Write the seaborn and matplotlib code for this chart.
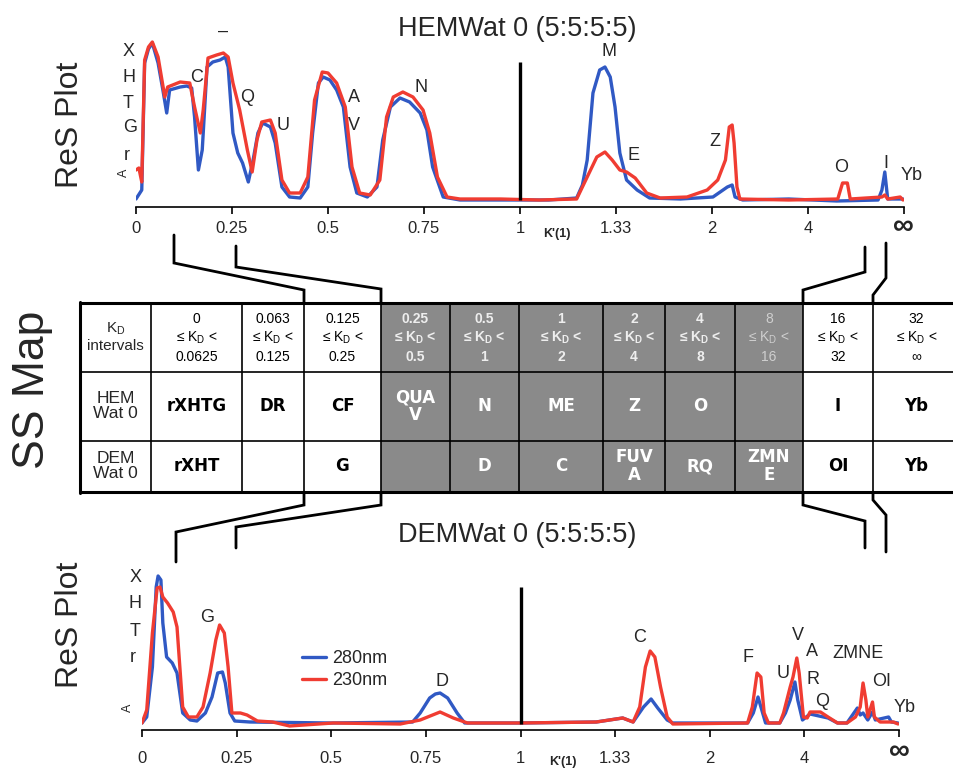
import matplotlib
matplotlib.use('Agg')
import matplotlib.pyplot as plt
import seaborn as sns
from matplotlib.patches import Rectangle

# K' scale: tick index 0..8 -> 0, 0.25, 0.5, 0.75, 1, 1.33, 2, 4, inf
tick_labels = ['0', '0.25', '0.5', '0.75', '1', '1.33', '2', '4', '∞']

# HEMWat 0 ReS plot (position on K' scale, absorbance)
hem_280 = [(0.00, 8), (0.06, 17), (0.09, 144), (0.13, 158), (0.17, 164), (0.23, 144), (0.28, 117), (0.32, 94),
           (0.35, 117), (0.46, 120), (0.53, 121), (0.58, 119), (0.61, 90), (0.65, 37), (0.69, 57),
           (0.74, 140), (0.80, 145), (0.875, 147), (0.93, 150), (0.96, 140), (1.01, 74), (1.06, 54),
           (1.11, 44), (1.17, 25), (1.22, 47), (1.27, 74), (1.32, 84), (1.40, 80), (1.45, 64),
           (1.52, 20), (1.60, 10), (1.71, 9), (1.79, 20), (1.84, 74), (1.90, 124), (1.95, 130),
           (2.02, 127), (2.09, 117), (2.16, 100), (2.23, 40), (2.30, 14), (2.41, 10), (2.51, 20),
           (2.57, 67), (2.65, 100), (2.75, 109), (2.85, 105), (2.96, 94), (3.03, 77), (3.09, 40),
           (3.20, 10), (3.375, 7), (3.58, 7), (4.0, 7), (4.3, 7), (4.59, 9), (4.65, 22), (4.70, 47),
           (4.76, 114), (4.83, 137), (4.885, 140), (4.94, 130), (4.99, 100), (5.04, 54), (5.11, 27),
           (5.22, 17), (5.35, 9), (5.67, 8), (6.01, 10), (6.16, 20), (6.21, 22), (6.24, 10), (6.32, 7),
           (6.8, 8), (7.3, 6), (7.73, 7), (7.77, 17), (7.80, 35), (7.83, 8), (7.99, 8)]
hem_230 = [(0.00, 37), (0.03, 39), (0.06, 25), (0.09, 147), (0.13, 160), (0.17, 165), (0.23, 150), (0.30, 110),
           (0.33, 120), (0.46, 125), (0.56, 124), (0.61, 100), (0.67, 74), (0.70, 97), (0.75, 149),
           (0.84, 152), (0.91, 154), (0.96, 150), (1.01, 124), (1.08, 97), (1.16, 57), (1.21, 35),
           (1.26, 67), (1.31, 85), (1.40, 87), (1.45, 74), (1.52, 27), (1.60, 14), (1.71, 14),
           (1.79, 30), (1.86, 107), (1.94, 135), (2.00, 134), (2.09, 124), (2.18, 100), (2.25, 40),
           (2.33, 14), (2.44, 12), (2.54, 27), (2.61, 90), (2.68, 110), (2.78, 115), (2.885, 110),
           (2.99, 97), (3.06, 74), (3.14, 30), (3.24, 10), (3.375, 8), (3.8, 8), (4.2, 7), (4.59, 8),
           (4.70, 30), (4.80, 50), (4.885, 55), (4.96, 47), (5.04, 37), (5.11, 35), (5.20, 29),
           (5.32, 14), (5.46, 9), (5.74, 10), (5.95, 17), (6.06, 27), (6.14, 47), (6.18, 80),
           (6.21, 82), (6.23, 64), (6.26, 20), (6.29, 8), (6.8, 7), (7.31, 8), (7.36, 24), (7.41, 24),
           (7.44, 8), (7.77, 10), (7.80, 12), (7.83, 8), (7.96, 10), (7.99, 7)]

# DEMWat 0 ReS plot
dem_280 = [(0.00, 7), (0.05, 13), (0.11, 63), (0.15, 143), (0.17, 154), (0.20, 150), (0.22, 107),
           (0.26, 73), (0.32, 67), (0.37, 57), (0.40, 37), (0.43, 17), (0.51, 10), (0.58, 9),
           (0.67, 17), (0.74, 33), (0.80, 57), (0.85, 58), (0.88, 47), (0.93, 17), (0.98, 9),
           (1.14, 8), (2.0, 7), (2.86, 8), (2.94, 17), (3.04, 32), (3.10, 36), (3.15, 37), (3.23, 32),
           (3.33, 17), (3.41, 7), (4.0, 7), (4.8, 8), (5.08, 12), (5.19, 8), (5.30, 23), (5.38, 31),
           (5.45, 22), (5.55, 10), (5.61, 7), (6.40, 7), (6.46, 17), (6.51, 33), (6.55, 20), (6.59, 7),
           (6.74, 7), (6.80, 17), (6.85, 30), (6.90, 48), (6.93, 30), (6.98, 10), (7.06, 16), (7.25, 12),
           (7.35, 7), (7.45, 7), (7.56, 22), (7.59, 15), (7.62, 17), (7.67, 10), (7.72, 18),
           (7.75, 10), (7.89, 13), (7.92, 8), (7.99, 7)]
dem_230 = [(0.00, 7), (0.05, 20), (0.11, 97), (0.16, 142), (0.19, 143), (0.22, 133), (0.27, 127),
           (0.33, 118), (0.37, 103), (0.40, 63), (0.43, 23), (0.49, 13), (0.58, 13), (0.645, 23),
           (0.72, 57), (0.78, 90), (0.82, 105), (0.87, 97), (0.91, 63), (0.95, 17), (1.04, 17),
           (1.11, 15), (1.22, 9), (1.38, 8), (1.56, 4), (2.02, 7), (2.73, 6), (2.94, 10), (3.15, 18),
           (3.29, 12), (3.44, 7), (4.0, 7), (4.8, 8), (5.08, 12), (5.19, 8), (5.26, 23), (5.32, 63),
           (5.37, 79), (5.42, 73), (5.48, 43), (5.55, 13), (5.61, 6), (6.40, 7), (6.45, 23),
           (6.50, 57), (6.54, 53), (6.575, 17), (6.62, 7), (6.74, 7), (6.78, 17), (6.85, 43),
           (6.88, 53), (6.92, 72), (6.945, 57), (6.99, 13), (7.03, 12), (7.06, 18), (7.17, 18),
           (7.25, 13), (7.35, 7), (7.45, 7), (7.54, 13), (7.59, 23), (7.62, 47), (7.65, 30),
           (7.67, 13), (7.72, 28), (7.74, 13), (7.80, 8), (7.94, 8), (7.99, 6)]

# peak labels (text, x, y)
hem_labels = [('X', -0.08, 155), ('H', -0.07, 129), ('T', -0.08, 104), ('G', -0.06, 79), ('r', -0.10, 52),
              ('–', 0.91, 176), ('C', 0.635, 130), ('Q', 1.16, 109), ('U', 1.53, 82), ('A', 2.27, 109),
              ('V', 2.27, 82), ('N', 2.97, 120), ('M', 4.93, 155), ('E', 5.18, 52), ('Z', 6.03, 65),
              ('O', 7.35, 40), ('I', 7.81, 44), ('Yb', 8.08, 31)]
dem_labels = [('X', -0.07, 152), ('H', -0.07, 126), ('T', -0.07, 99), ('r', -0.10, 73), ('G', 0.69, 113),
              ('D', 3.17, 48), ('C', 5.26, 93), ('F', 6.40, 73), ('U', 6.78, 56), ('V', 6.93, 95),
              ('A', 7.08, 78), ('R', 7.09, 50), ('Q', 7.19, 28), ('ZMNE', 7.57, 77), ('OI', 7.82, 48),
              ('Yb', 8.06, 22)]

# SS map table
kd_low = ['0', '0.063', '0.125', '0.25', '0.5', '1', '2', '4', '8', '16', '32']
kd_high = ['0.0625', '0.125', '0.25', '0.5', '1', '2', '4', '8', '16', '32', '∞']
hem_row = ['rXHTG', 'DR', 'CF', 'QUA\nV', 'N', 'ME', 'Z', 'O', '', 'I', 'Yb']
dem_row = ['rXHT', '', 'G', '', 'D', 'C', 'FUV\nA', 'RQ', 'ZMN\nE', 'OI', 'Yb']

BLUE = '#3059c4'
RED = '#f03c32'
GRAY = '#8a8a8a'

sns.set_style('white')
plt.rcParams['font.family'] = ['Liberation Sans', 'DejaVu Sans']
plt.rcParams['mathtext.default'] = 'regular'

W, H = 954, 768
fig = plt.figure(figsize=(W / 100, H / 100), dpi=100)


def box(x0, y0, x1, y1):
    return [x0 / W, 1 - y1 / H, (x1 - x0) / W, (y1 - y0) / H]


ax_top = fig.add_axes(box(136, 35, 904, 207))
ax_bot = fig.add_axes(box(142, 560, 899, 730))

for ax, c280, c230, ytop, pad in [(ax_top, hem_280, hem_230, 172, 5), (ax_bot, dem_280, dem_230, 170, 10)]:
    sns.lineplot(x=[p[0] for p in c280], y=[p[1] for p in c280], ax=ax, color=BLUE, lw=2.4,
                 sort=False, estimator=None, label='280nm')
    sns.lineplot(x=[p[0] for p in c230], y=[p[1] for p in c230], ax=ax, color=RED, lw=2.4,
                 sort=False, estimator=None, label='230nm')
    ax.set_xlim(0, 8)
    ax.set_ylim(0, ytop)
    ax.patch.set_alpha(0)
    for s in ['top', 'left', 'right']:
        ax.spines[s].set_visible(False)
    ax.spines['bottom'].set_linewidth(1.2)
    ax.spines['bottom'].set_color('black')
    ax.set_yticks([])
    ax.set_xticks(range(9))
    ax.set_xticklabels(tick_labels[:-1] + [''], fontsize=12)
    ax.tick_params(axis='x', bottom=True, length=5, width=1.2, color='black', pad=pad)
    ax.set_xlabel('')
    ax.set_ylabel('')

ax_top.get_legend().remove()
ax_bot.legend(loc='upper left', bbox_to_anchor=(293 / W, 1 - 641 / H), bbox_transform=fig.transFigure,
              frameon=False, fontsize=13, handlelength=1.35, handletextpad=0.3, borderpad=0,
              labelspacing=0.3)

ax_top.vlines(4, 7, 145, color='black', lw=2.4)
ax_bot.vlines(4, 6, 143, color='black', lw=2.4)

for ax, labels, a_pos in [(ax_top, hem_labels, (-0.125, 34)), (ax_bot, dem_labels, (-0.15, 22))]:
    for t, x, y in labels:
        ax.text(x, y, t, fontsize=13, ha='center', va='center', clip_on=False)
    ax.text(a_pos[0], a_pos[1], 'A', fontsize=9, rotation=90, ha='center', va='center', clip_on=False)

# overlay in pixel coordinates for titles, table and connectors
ov = fig.add_axes([0, 0, 1, 1])
ov.set_xlim(0, W)
ov.set_ylim(H, 0)
ov.axis('off')
ov.patch.set_alpha(0)

ov.text(517, 36, 'HEMWat 0 (5:5:5:5)', fontsize=19.5, ha='center', va='baseline')
ov.text(517, 542, 'DEMWat 0 (5:5:5:5)', fontsize=19.5, ha='center', va='baseline')
ov.text(70, 125, 'ReS Plot', fontsize=23, rotation=90, ha='center', va='center')
ov.text(70, 625, 'ReS Plot', fontsize=23, rotation=90, ha='center', va='center')
ov.text(33, 390, 'SS Map', fontsize=32, rotation=90, ha='center', va='center')
ov.text(557, 234, "K'(1)", fontsize=9, fontweight='bold', ha='center', va='center')
ov.text(563, 762, "K'(1)", fontsize=9, fontweight='bold', ha='center', va='center')
# infinity tick labels, drawn larger and bolder than the other ticks
ov.text(903, 226, tick_labels[-1], fontsize=21, fontweight='bold', ha='center', va='center')
ov.text(899, 751, tick_labels[-1], fontsize=21, fontweight='bold', ha='center', va='center')

# table
cols = [80, 151, 242, 304, 381, 450, 519, 603, 665, 735, 803, 873, 960]
rows = [303, 372, 441, 492]
ov.add_patch(Rectangle((381, 303), 803 - 381, 492 - 303, facecolor=GRAY, edgecolor='none'))
for x in cols[1:-1]:
    ov.plot([x, x], [303, 492], color='black', lw=1.2)
for y in rows[1:-1]:
    ov.plot([80, 960], [y, y], color='black', lw=1.2)
ov.plot([80, 960], [303, 303], color='black', lw=2.2, solid_capstyle='butt')
ov.plot([80, 960], [492, 492], color='black', lw=2.2, solid_capstyle='butt')
ov.plot([80, 80], [302, 493], color='black', lw=2.2)

kd = 'K$_D$'
ov.text(115.5, 337, kd + '\nintervals', fontsize=11, ha='center', va='center', linespacing=1.15)
ov.text(115.5, 406, 'HEM\nWat 0', fontsize=12.5, ha='center', va='center', linespacing=1.05)
ov.text(115.5, 466, 'DEM\nWat 0', fontsize=12.5, ha='center', va='center', linespacing=1.05)
for i in range(11):
    cx = (cols[i + 1] + cols[i + 2]) / 2
    gray = 3 <= i <= 8
    hcol = '#cfcfcf' if i == 8 else ('#eeeeee' if gray else 'black')
    hw = 'bold' if gray and i != 8 else 'normal'
    ov.text(cx, 338, f'{kd_low[i]}\n≤ {kd} <\n{kd_high[i]}', fontsize=10, ha='center', va='center',
            color=hcol, fontweight=hw, linespacing=1.3)
    tcol = 'white' if gray else 'black'
    ov.text(cx, 406, hem_row[i], fontsize=12, ha='center', va='center', color=tcol,
            fontweight='heavy', family='DejaVu Sans', linespacing=0.95)
    ov.text(cx, 466, dem_row[i], fontsize=12, ha='center', va='center', color=tcol,
            fontweight='heavy', family='DejaVu Sans', linespacing=0.95)

# connectors between the ReS plots and the SS map
lk = dict(color='black', lw=2, solid_joinstyle='miter')
ov.plot([174, 174, 304, 304], [235, 263, 290, 303], **lk)
ov.plot([236, 236, 381, 381], [246, 267, 289, 303], **lk)
ov.plot([865, 865, 803, 803], [247, 272, 290, 303], **lk)
ov.plot([886, 886, 873, 873], [243, 278, 295, 303], **lk)
ov.plot([304, 304, 176, 176], [492, 505, 532, 562], **lk)
ov.plot([381, 381, 236, 236], [492, 505, 527, 548], **lk)
ov.plot([803, 803, 865, 865], [492, 505, 521, 548], **lk)
ov.plot([873, 873, 886, 886], [492, 500, 515, 552], **lk)

fig.savefig('out.png', dpi=100)
